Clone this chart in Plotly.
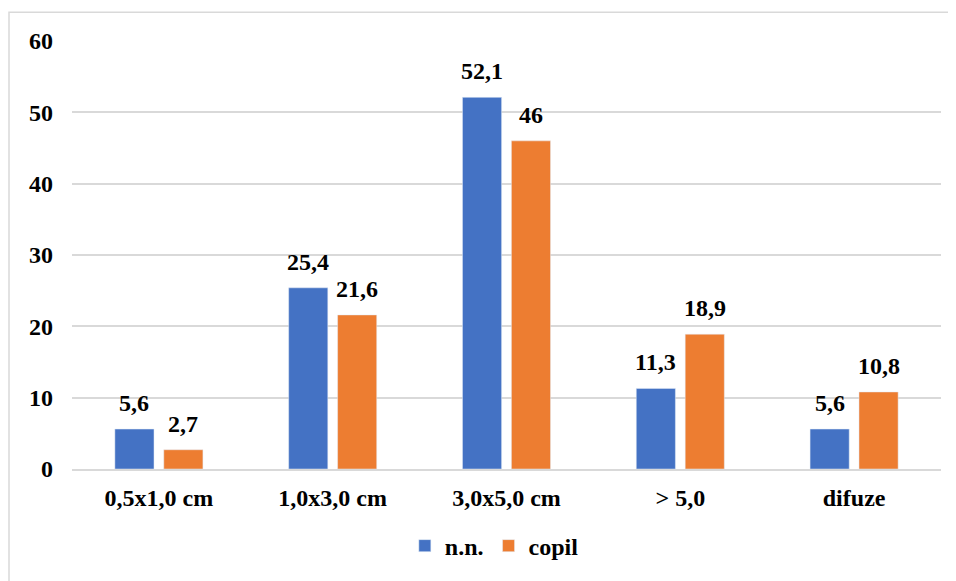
import plotly.graph_objects as go

categories = ["0,5x1,0 cm", "1,0x3,0 cm", "3,0x5,0 cm", "> 5,0", "difuze"]
nn_values = [5.6, 25.4, 52.1, 11.3, 5.6]
copil_values = [2.7, 21.6, 46, 18.9, 10.8]
nn_labels = ["5,6", "25,4", "52,1", "11,3", "5,6"]
copil_labels = ["2,7", "21,6", "46", "18,9", "10,8"]
tick_vals = [0, 10, 20, 30, 40, 50, 60]

font_family = "Liberation Serif"
FS = 24

fig = go.Figure()
fig.add_trace(go.Bar(x=categories, y=nn_values, name="n.n.", marker_color="#4472C4"))
fig.add_trace(go.Bar(x=categories, y=copil_values, name="copil", marker_color="#ED7D31"))

# data labels
for vals, labs, dx in ((nn_values, nn_labels, -24.5), (copil_values, copil_labels, 24.5)):
    for c, v, t in zip(categories, vals, labs):
        fig.add_annotation(x=c, y=v, xref="x", yref="y", text=t, showarrow=False,
                           xshift=dx, yshift=11, yanchor="bottom", xanchor="center",
                           font=dict(family=font_family, size=FS, color="black", weight="bold"))

fig.update_layout(
    width=948, height=573,
    margin=dict(l=64, r=15, t=33, b=110),
    plot_bgcolor="white", paper_bgcolor="white",
    barmode="group", bargap=0.437, bargroupgap=0.2,
    font=dict(family=font_family, size=FS, color="black", weight="bold"),
    legend=dict(orientation="h", x=0.486, xanchor="center", y=-0.18, yanchor="middle",
                font=dict(family=font_family, size=FS, weight="bold"), itemwidth=30,
                traceorder="normal"),
    showlegend=True,
)
fig.update_yaxes(range=[0, 60], tickvals=tick_vals, showgrid=True, gridcolor="#d9d9d9",
                 gridwidth=1.5, zeroline=False, showline=False, ticks="",
                 ticklabelstandoff=18,
                 tickfont=dict(family=font_family, size=FS, weight="bold"))
fig.update_xaxes(showline=True, linecolor="#d9d9d9", linewidth=1.5, ticks="",
                 ticklabelstandoff=6,
                 tickfont=dict(family=font_family, size=FS, weight="bold"))
fig.add_shape(type="rect", xref="paper", yref="paper", x0=-0.0725, x1=1.2, y0=-0.5, y1=1.0674,
              line=dict(color="#d9d9d9", width=1.5), fillcolor="rgba(0,0,0,0)", layer="below")
fig.write_html("out.html")
